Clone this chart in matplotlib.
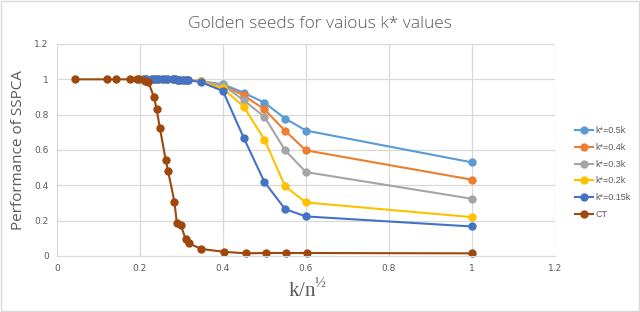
"""Golden seeds for various k* values"""

import matplotlib
matplotlib.use("Agg")
import matplotlib.pyplot as plt
from matplotlib.patches import Rectangle

# x positions (k / n^1/2) shared by the k* series
x_k = [0.21, 0.215, 0.228, 0.236, 0.244, 0.256, 0.264, 0.28, 0.284, 0.292,
       0.295, 0.304, 0.312, 0.316, 0.346, 0.4, 0.45, 0.5, 0.55, 0.6, 1.0]
flat = [1.0, 1.0, 1.0, 1.0, 1.0, 1.0, 1.0, 1.0, 1.0, 0.998,
        0.998, 0.997, 0.995, 0.995]

k05 = flat + [0.99, 0.972, 0.924, 0.868, 0.778, 0.71, 0.53]
k04 = flat + [0.99, 0.965, 0.909, 0.83, 0.708, 0.598, 0.432]
k03 = flat + [0.99, 0.966, 0.882, 0.788, 0.598, 0.475, 0.324]
k02 = flat + [0.988, 0.949, 0.845, 0.659, 0.394, 0.303, 0.22]
k015 = flat + [0.985, 0.934, 0.669, 0.419, 0.265, 0.224, 0.167]

x_ct = [0.043, 0.12, 0.142, 0.176, 0.192, 0.198, 0.212, 0.22, 0.234, 0.24,
        0.248, 0.262, 0.268, 0.283, 0.289, 0.298, 0.31, 0.318, 0.347, 0.402,
        0.455, 0.503, 0.552, 0.602, 1.0]
ct = [1.0, 1.0, 1.0, 1.0, 1.0, 1.0, 0.99, 0.985, 0.899, 0.833,
      0.725, 0.545, 0.479, 0.308, 0.185, 0.176, 0.097, 0.072, 0.04, 0.024,
      0.015, 0.017, 0.017, 0.017, 0.015]

series = [
    ("k*=0.5k", x_k, k05, "#5B9BD5"),
    ("k*=0.4k", x_k, k04, "#ED7D31"),
    ("k*=0.3k", x_k, k03, "#A5A5A5"),
    ("k*=0.2k", x_k, k02, "#FFC000"),
    ("k*=0.15k", x_k, k015, "#4472C4"),
    ("CT", x_ct, ct, "#9E480E"),
]

plt.rcParams["mathtext.fontset"] = "custom"
plt.rcParams["mathtext.rm"] = "Liberation Serif"

fig = plt.figure(figsize=(6.4, 3.12), dpi=100)
fig.patches.append(Rectangle((0.002, 0.003), 0.996, 0.994, transform=fig.transFigure,
                             fill=False, edgecolor="#D9D9D9", linewidth=1))
ax = fig.add_axes([0.089, 0.1795, 0.778, 0.6795])

for label, xs, ys, color in series:
    ax.plot(xs, ys, "-o", color=color, label=label, linewidth=1.5,
            markersize=5, clip_on=False)

ax.set_xlim(0, 1.2)
ax.set_ylim(0, 1.2)
ax.set_xticks([0, 0.2, 0.4, 0.6, 0.8, 1, 1.2])
ax.set_xticklabels(["0", "0.2", "0.4", "0.6", "0.8", "1", "1.2"])
ax.set_yticks([0, 0.2, 0.4, 0.6, 0.8, 1, 1.2])
ax.set_yticklabels(["0", "0.2", "0.4", "0.6", "0.8", "1", "1.2"])
ax.tick_params(length=0, labelsize=6.5, labelcolor="#595959", pad=6)
ax.grid(True, color="#D9D9D9", linewidth=0.9)
ax.set_axisbelow(True)
for side in ["top", "right", "left"]:
    ax.spines[side].set_visible(False)
ax.spines["bottom"].set_color("#D9D9D9")

fig.text(0.5, 0.922, "Golden seeds for vaious k* values", ha="center", va="center",
         fontsize=12.5, color="#595959", family="Open Sans", fontweight="light")
ax.set_ylabel("Performance of SSPCA", fontsize=11, color="#595959", labelpad=6,
              family="Open Sans")
fig.text(0.48, 0.07, r"$\mathrm{k/n}^{\mathrm{½}}$", ha="center", va="center",
         fontsize=15, color="#595959")

fig.legend(loc="center left", bbox_to_anchor=(0.898, 0.447), frameon=False,
           prop={"family": "Liberation Sans", "size": 6.5}, labelcolor="#595959",
           handlelength=2.0, handletextpad=0.3, labelspacing=0.85, borderaxespad=0,
           borderpad=0)

fig.savefig("out.png", dpi=100)
